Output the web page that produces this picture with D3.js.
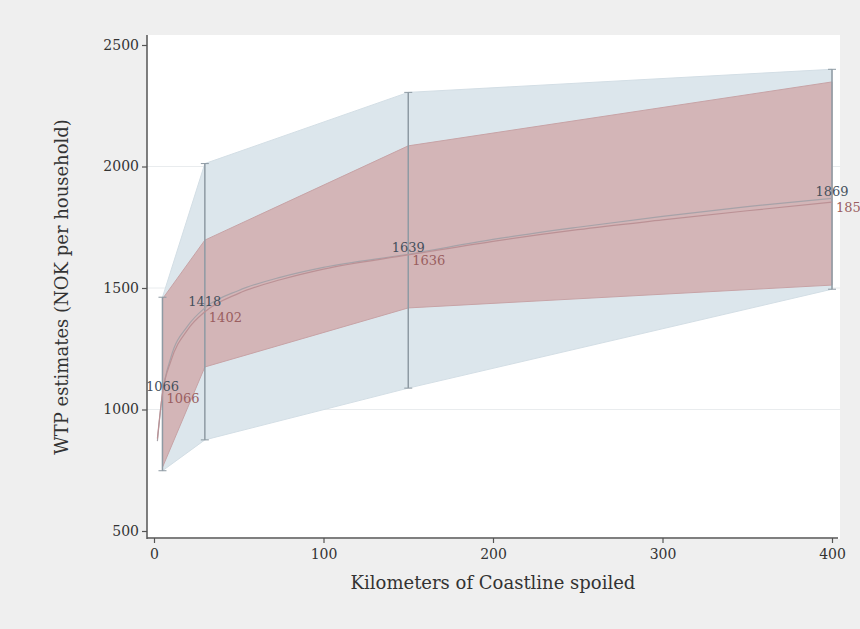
<!DOCTYPE html>
<html lang="en">
<head>
    <meta charset="UTF-8">
    <title>WTP by kilometers of coastline spoiled</title>
    <style>
        body, html {
            margin: 0;
            padding: 0;
            background-color: #efefef;
        }
        svg text {
            font-family: "DejaVu Serif", "Liberation Serif", serif;
        }
    </style>
</head>
<body>
    <svg id="chart" width="860" height="629"></svg>

    <script src="https://d3js.org/d3.v7.min.js"></script>
    <script>
        // Kilometers of coastline spoiled (scenario points)
        const km = [5, 30, 150, 400];

        // Outer (light blue) confidence band
        const outerLow  = [748, 875, 1088, 1495];
        const outerHigh = [1462, 2012, 2305, 2400];

        // Inner (red) confidence band
        const innerLow  = [762, 1175, 1418, 1512];
        const innerHigh = [1455, 1697, 2085, 2348];

        // Point estimates shown as labels
        const estA = [1066, 1418, 1639, 1869];
        const estB = [1066, 1402, 1636, 1853];

        // Fitted WTP curves
        const curveKm = [2, 5, 10, 20, 30, 50, 75, 100, 150, 200, 250, 300, 350, 400];
        const curveA  = [870, 1066, 1215, 1345, 1418, 1490, 1545, 1585, 1639, 1700, 1750, 1795, 1835, 1869];
        const curveB  = [880, 1066, 1200, 1330, 1402, 1478, 1535, 1578, 1636, 1692, 1740, 1780, 1818, 1853];

        const xTicks = [0, 100, 200, 300, 400];
        const yTicks = [500, 1000, 1500, 2000, 2500];

        const svg = d3.select("#chart");

        // plot region
        const region = { left: 147, right: 840, top: 35, bottom: 539 };

        const x = d3.scaleLinear().domain([0, 400]).range([154, 832]);
        const y = d3.scaleLinear().domain([500, 2500]).range([531, 45]);

        svg.append("rect")
            .attr("x", region.left)
            .attr("y", region.top)
            .attr("width", region.right - region.left)
            .attr("height", region.bottom - region.top)
            .attr("fill", "#ffffff");

        // gridlines
        svg.append("g")
            .selectAll("line")
            .data([1000, 1500, 2000])
            .join("line")
            .attr("x1", region.left)
            .attr("x2", region.right)
            .attr("y1", d => y(d))
            .attr("y2", d => y(d))
            .attr("stroke", "#e9ecee")
            .attr("stroke-width", 1);

        const bandRows = (lo, hi) => km.map((k, i) => ({ k, lo: lo[i], hi: hi[i] }));

        const band = d3.area()
            .x(d => x(d.k))
            .y0(d => y(d.lo))
            .y1(d => y(d.hi));

        svg.append("path")
            .datum(bandRows(outerLow, outerHigh))
            .attr("d", band)
            .attr("fill", "#dce6ec")
            .attr("stroke", "#d3dee5")
            .attr("stroke-width", 1);

        svg.append("path")
            .datum(bandRows(innerLow, innerHigh))
            .attr("d", band)
            .attr("fill", "#d3b5b7")
            .attr("stroke", "#c7a3a6")
            .attr("stroke-width", 1);

        // range spikes with caps
        const spikes = svg.append("g")
            .attr("stroke", "#8e9aa3")
            .attr("stroke-width", 1.5);
        const spikeRows = bandRows(outerLow, outerHigh);
        spikes.selectAll("line.v")
            .data(spikeRows)
            .join("line")
            .attr("class", "v")
            .attr("x1", d => x(d.k))
            .attr("x2", d => x(d.k))
            .attr("y1", d => y(d.lo))
            .attr("y2", d => y(d.hi));
        spikes.selectAll("line.c")
            .data(spikeRows.flatMap(d => [{ k: d.k, v: d.lo }, { k: d.k, v: d.hi }]))
            .join("line")
            .attr("class", "c")
            .attr("stroke-width", 1)
            .attr("x1", d => x(d.k) - 4)
            .attr("x2", d => x(d.k) + 4)
            .attr("y1", d => y(d.v))
            .attr("y2", d => y(d.v));

        // fitted curves
        const line = d3.line()
            .x(d => x(d.k))
            .y(d => y(d.v))
            .curve(d3.curveMonotoneX);

        svg.append("path")
            .datum(curveKm.map((k, i) => ({ k, v: curveA[i] })))
            .attr("d", line)
            .attr("fill", "none")
            .attr("stroke", "#a7a2a8")
            .attr("stroke-width", 1.2);

        svg.append("path")
            .datum(curveKm.map((k, i) => ({ k, v: curveB[i] })))
            .attr("d", line)
            .attr("fill", "none")
            .attr("stroke", "#bb9195")
            .attr("stroke-width", 1.2);

        // estimate labels
        svg.append("g")
            .selectAll("text")
            .data(km.map((k, i) => ({ k, v: estA[i] })))
            .join("text")
            .attr("x", d => x(d.k))
            .attr("y", d => y(d.v) - 2)
            .attr("text-anchor", "middle")
            .attr("font-size", 13)
            .attr("fill", "#45505c")
            .text(d => d.v);

        svg.append("g")
            .selectAll("text")
            .data(km.map((k, i) => ({ k, v: estB[i] })))
            .join("text")
            .attr("x", d => x(d.k) + 4)
            .attr("y", d => y(d.v) + 10)
            .attr("font-size", 13)
            .attr("fill", "#9a5e60")
            .text(d => d.v);

        // axes
        const yAxis = svg.append("g")
            .attr("transform", `translate(${region.left},0)`)
            .call(d3.axisLeft(y).tickValues(yTicks).tickSize(5).tickPadding(3).tickFormat(d3.format("d")));
        const xAxis = svg.append("g")
            .attr("transform", `translate(0,${region.bottom - 1})`)
            .call(d3.axisBottom(x).tickValues(xTicks).tickSize(5).tickPadding(6).tickFormat(d3.format("d")));

        [yAxis, xAxis].forEach(g => {
            g.select(".domain").remove();
            g.selectAll(".tick line").attr("stroke", "#555").attr("stroke-width", 1.2);
            g.selectAll(".tick text")
                .attr("fill", "#333")
                .attr("font-size", 14)
                .style("font-family", "\"DejaVu Serif\", serif");
        });

        svg.append("line")
            .attr("x1", region.left).attr("x2", region.left)
            .attr("y1", region.top).attr("y2", region.bottom)
            .attr("stroke", "#555").attr("stroke-width", 1.5);
        svg.append("line")
            .attr("x1", region.left).attr("x2", region.right - 2)
            .attr("y1", region.bottom - 1).attr("y2", region.bottom - 1)
            .attr("stroke", "#555").attr("stroke-width", 1.5);

        // axis titles
        svg.append("text")
            .attr("x", (x(0) + x(400)) / 2)
            .attr("y", 589)
            .attr("text-anchor", "middle")
            .attr("font-size", 18)
            .attr("fill", "#333")
            .text("Kilometers of Coastline spoiled");

        svg.append("text")
            .attr("transform", `translate(68,${(region.top + region.bottom) / 2}) rotate(-90)`)
            .attr("text-anchor", "middle")
            .attr("font-size", 18)
            .attr("fill", "#333")
            .text("WTP estimates (NOK per household)");
    </script>
</body>
</html>
